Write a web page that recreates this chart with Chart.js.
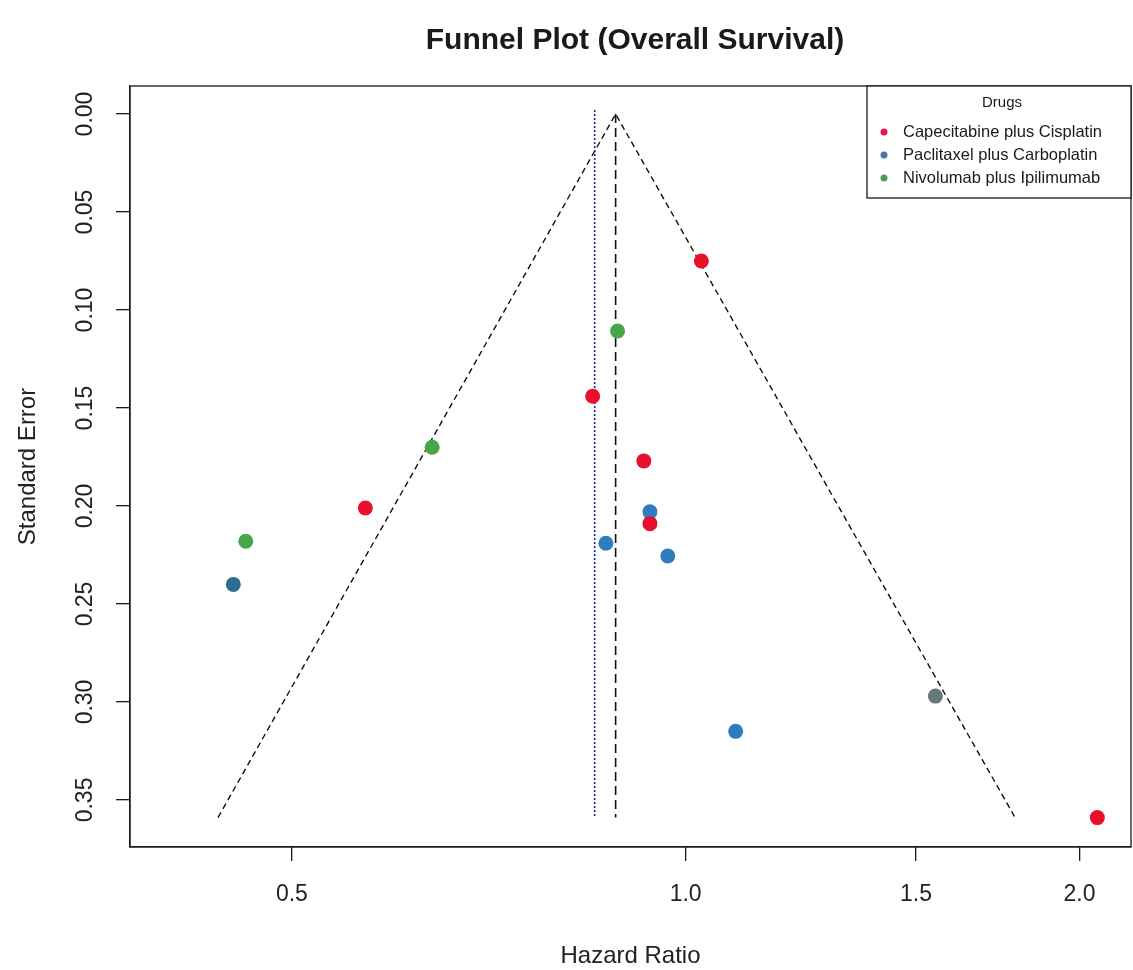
<!DOCTYPE html>
<html>
<head>
<meta charset="utf-8">
<script src="https://cdn.jsdelivr.net/npm/chart.js@4/dist/chart.umd.min.js"></script>
<style>
  html, body { margin: 0; padding: 0; background: #fff; }
  #wrap { width: 1133px; height: 970px; }
</style>
</head>
<body>
<div id="wrap"><canvas id="funnel" width="1133" height="970"></canvas></div>
<script>
// Values (HR on log axis, SE reversed)
const drugNames = ['Capecitabine plus Cisplatin', 'Paclitaxel plus Carboplatin', 'Nivolumab plus Ipilimumab'];

const capeHR = [1.028, 0.849, 0.929, 0.569, 0.939, 2.064];
const capeSE = [0.075, 0.144, 0.177, 0.201, 0.209, 0.359];

const pacliHR = [0.939, 0.869, 0.969, 0.451, 1.092, 1.552];
const pacliSE = [0.203, 0.219, 0.2255, 0.240, 0.315, 0.297];

const nivoHR = [0.887, 0.640, 0.461];
const nivoSE = [0.1107, 0.170, 0.218];

// funnel outline and reference lines
const funnelHR = [0.439, 0.884, 1.786];
const funnelSE = [0.359, 0, 0.359];
const pooledHR = 0.884;
const randomHR = 0.852;
const lineSE = [0, 0.359];
const randomLineSE = [-0.002, 0.359];

const hrTicks = [0.5, 1.0, 1.5, 2.0];
const seTicks = [0, 0.05, 0.10, 0.15, 0.20, 0.25, 0.30, 0.35];

const FONT = '"Liberation Sans", Arial, sans-serif';
const INK = '#1a1a1a';
const dotColors = ['#E8112D', '#2F7DC0', '#47A64A'];
const legendDots = ['#DE1A4A', '#4A77A8', '#4F9E50'];

const pairs = (xs, ys) => xs.map((x, i) => ({ x: x, y: ys[i] }));

// two odd-coloured points (overlaps in the original)
const pacliColors = pacliHR.map((_, i) => i === 3 ? '#2B6E8D' : (i === 5 ? '#687A77' : dotColors[1]));

const pointDefaults = { type: 'scatter', pointRadius: 7.5, pointHoverRadius: 7.5, pointBorderWidth: 0, order: 0 };

const extras = {
    id: 'extras',
    afterDraw(chart) {
        const { ctx, chartArea: a, scales } = chart;
        ctx.save();

        // box
        ctx.strokeStyle = INK;
        ctx.lineWidth = 1.3;
        ctx.strokeRect(a.left, a.top, a.right - a.left, a.bottom - a.top);

        // title
        ctx.fillStyle = INK;
        ctx.textAlign = 'center';
        ctx.textBaseline = 'middle';
        ctx.font = 'bold 30px ' + FONT;
        ctx.fillText('Funnel Plot (Overall Survival)', 635, 41);

        // x title
        ctx.font = '24px ' + FONT;
        ctx.fillStyle = '#222';
        ctx.fillText('Hazard Ratio', (a.left + a.right) / 2, 956);

        // y tick labels, rotated like base R
        ctx.font = '23px ' + FONT;
        seTicks.forEach(v => {
            const py = scales.y.getPixelForValue(v);
            ctx.save();
            ctx.translate(86, py);
            ctx.rotate(-Math.PI / 2);
            ctx.fillText(v.toFixed(2), 0, 0);
            ctx.restore();
        });

        // y title
        ctx.save();
        ctx.font = '24px ' + FONT;
        ctx.translate(28, (a.top + a.bottom) / 2);
        ctx.rotate(-Math.PI / 2);
        ctx.fillText('Standard Error', 0, 0);
        ctx.restore();

        // legend
        const lx = 867, ly = a.top, lw = a.right - lx, lh = 112;
        ctx.fillStyle = '#fff';
        ctx.fillRect(lx, ly, lw, lh);
        ctx.strokeStyle = INK;
        ctx.lineWidth = 1.3;
        ctx.strokeRect(lx, ly, lw, lh);
        ctx.fillStyle = INK;
        ctx.font = '15px ' + FONT;
        ctx.textAlign = 'center';
        ctx.fillText('Drugs', 1002, 103);
        ctx.textAlign = 'left';
        ctx.font = '16.5px ' + FONT;
        drugNames.forEach((name, i) => {
            const y = 132 + i * 23;
            ctx.fillStyle = legendDots[i];
            ctx.beginPath();
            ctx.arc(884, y, 3.5, 0, Math.PI * 2);
            ctx.fill();
            ctx.fillStyle = INK;
            ctx.fillText(name, 903, y);
        });

        ctx.restore();
    }
};

new Chart(document.getElementById('funnel'), {
    type: 'scatter',
    data: {
        datasets: [
            { ...pointDefaults, label: drugNames[0], data: pairs(capeHR, capeSE), backgroundColor: dotColors[0] },
            { ...pointDefaults, label: drugNames[1], data: pairs(pacliHR, pacliSE), backgroundColor: pacliColors },
            { ...pointDefaults, label: drugNames[2], data: pairs(nivoHR, nivoSE), backgroundColor: dotColors[2] },
            {
                type: 'line', label: 'funnel', data: pairs(funnelHR, funnelSE),
                borderColor: '#111', borderWidth: 1.4, borderDash: [6, 4], pointRadius: 0, fill: false, tension: 0, order: 1
            },
            {
                type: 'line', label: 'pooled', data: lineSE.map(s => ({ x: pooledHR, y: s })),
                borderColor: '#111', borderWidth: 1.6, borderDash: [9, 5], pointRadius: 0, fill: false, order: 1
            },
            {
                type: 'line', label: 'random', data: randomLineSE.map(s => ({ x: randomHR, y: s })),
                borderColor: '#1a1aa8', borderWidth: 1.6, borderDash: [2, 2], pointRadius: 0, fill: false, order: 1
            }
        ]
    },
    options: {
        responsive: false,
        devicePixelRatio: 1,
        animation: false,
        layout: { autoPadding: false, padding: { top: 86, right: 2, left: 0, bottom: 0 } },
        plugins: { legend: { display: false }, tooltip: { enabled: false }, title: { display: false } },
        scales: {
            x: {
                type: 'logarithmic',
                position: 'bottom',
                min: 0.376,
                max: 2.19,
                afterBuildTicks: s => { s.ticks = hrTicks.map(v => ({ value: v })); },
                afterFit: s => { s.height = 123; s.paddingLeft = 0; s.paddingRight = 0; },
                grid: { drawOnChartArea: false, drawTicks: true, tickLength: 14, color: INK, lineWidth: 1.3 },
                border: { display: true, color: INK, width: 1.3 },
                ticks: {
                    autoSkip: false, maxRotation: 0, minRotation: 0, padding: 20, color: '#222',
                    font: { family: FONT, size: 23 },
                    callback: v => Number(v).toFixed(1)
                }
            },
            y: {
                type: 'linear',
                reverse: true,
                min: -0.0143,
                max: 0.374,
                afterBuildTicks: s => { s.ticks = seTicks.map(v => ({ value: v })); },
                afterFit: s => { s.width = 130; s.paddingTop = 0; s.paddingBottom = 0; },
                grid: { drawOnChartArea: false, drawTicks: true, tickLength: 14, color: INK, lineWidth: 1.3 },
                border: { display: true, color: INK, width: 1.3 },
                ticks: { display: false }
            }
        }
    },
    plugins: [extras]
});
</script>
</body>
</html>
